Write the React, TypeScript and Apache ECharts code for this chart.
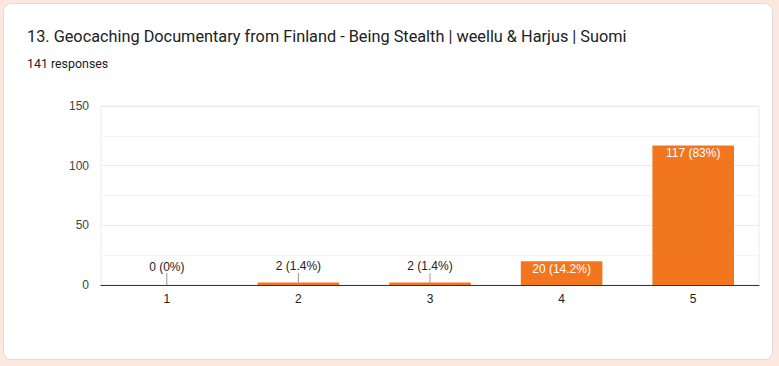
import React, { useEffect, useRef } from "react";
import * as echarts from "echarts";

const titleText = "13. Geocaching Documentary from Finland - Being Stealth | weellu & Harjus | Suomi";
const subtitleText = "141 responses";
const categories = ["1", "2", "3", "4", "5"];
const counts = [0, 2, 2, 20, 117];
const totalResponses = 141;
const yMin = 0;
const yMax = 150;
const yInterval = 50;

const ORANGE = "#f2761e";

function pct(v: number): string {
  const p = (v / totalResponses) * 100;
  const s = p.toFixed(1);
  return (s.endsWith(".0") ? s.slice(0, -2) : s) + "%";
}

export default function App() {
  const ref = useRef<HTMLDivElement>(null);
  useEffect(() => {
    document.body.style.margin = "0";
    const chart = echarts.init(ref.current!, null, { renderer: "svg" });
    const barData = counts.map((v) => {
      const inside = v >= 15;
      return {
        value: v,
        label: inside
          ? { show: true, position: "insideTop", distance: 2, color: "#ffffff" }
          : { show: true, position: "top", distance: v === 0 ? 12.5 : 11, color: "#222222" },
      };
    });
    const leaderData = counts
      .map((v, i) => [i, v])
      .filter((d) => d[1] < 15);
    chart.setOption({
      animation: false,
      backgroundColor: "#fce8dc",
      graphic: [
        {
          type: "rect",
          z: -10,
          shape: { x: 3.5, y: 3.5, width: 769, height: 356, r: 8 },
          style: { fill: "#ffffff", stroke: "#dadce0", lineWidth: 1 },
          silent: true,
        },
        {
          type: "text",
          x: 27,
          y: 36,
          style: {
            text: titleText,
            font: "16.3px Roboto",
            fill: "#202124",
            verticalAlign: "middle",
          },
        },
        {
          type: "text",
          x: 27,
          y: 63.5,
          style: {
            text: subtitleText,
            font: "12.4px Roboto",
            fill: "#202124",
            verticalAlign: "middle",
          },
        },
      ],
      grid: {
        left: 101,
        right: 20,
        top: 106,
        bottom: 81,
        show: true,
        borderColor: "#ebebeb",
        borderWidth: 1,
        backgroundColor: "transparent",
      },
      xAxis: {
        type: "category",
        data: categories,
        axisLine: { show: true, lineStyle: { color: "#333333", width: 1 } },
        axisTick: { show: false },
        axisLabel: {
          color: "#222222",
          fontFamily: "Liberation Sans, Arial",
          fontSize: 12,
          margin: 8,
        },
      },
      yAxis: {
        type: "value",
        min: yMin,
        max: yMax,
        interval: yInterval,
        axisLine: { show: false },
        axisTick: { show: false },
        axisLabel: {
          color: "#444444",
          fontFamily: "Liberation Sans, Arial",
          fontSize: 12,
          margin: 12,
        },
        splitLine: { show: true, lineStyle: { color: "#ebebeb", width: 1 } },
        minorTick: { show: false, splitNumber: 2 },
        minorSplitLine: { show: true, lineStyle: { color: "#f4f4f4", width: 1 } },
      },
      series: [
        {
          type: "bar",
          data: barData,
          barWidth: "62%",
          itemStyle: { color: ORANGE },
          label: {
            fontFamily: "Liberation Sans, Arial",
            fontSize: 12,
            formatter: (p: any) => `${p.value} (${pct(p.value)})`,
          },
          z: 2,
        },
        {
          type: "custom",
          data: leaderData,
          encode: { x: 0, y: 1 },
          z: 3,
          silent: true,
          renderItem: (params: any, api: any) => {
            const top = api.coord([api.value(0), api.value(1)]);
            const base = api.coord([api.value(0), 0]);
            return {
              type: "line",
              shape: { x1: top[0], y1: top[1], x2: top[0], y2: base[1] - 12 },
              style: { stroke: "#999999", lineWidth: 1 },
            };
          },
        },
      ],
    });
    return () => chart.dispose();
  }, []);
  return <div ref={ref} style={{ width: 779, height: 366 }} />;
}
